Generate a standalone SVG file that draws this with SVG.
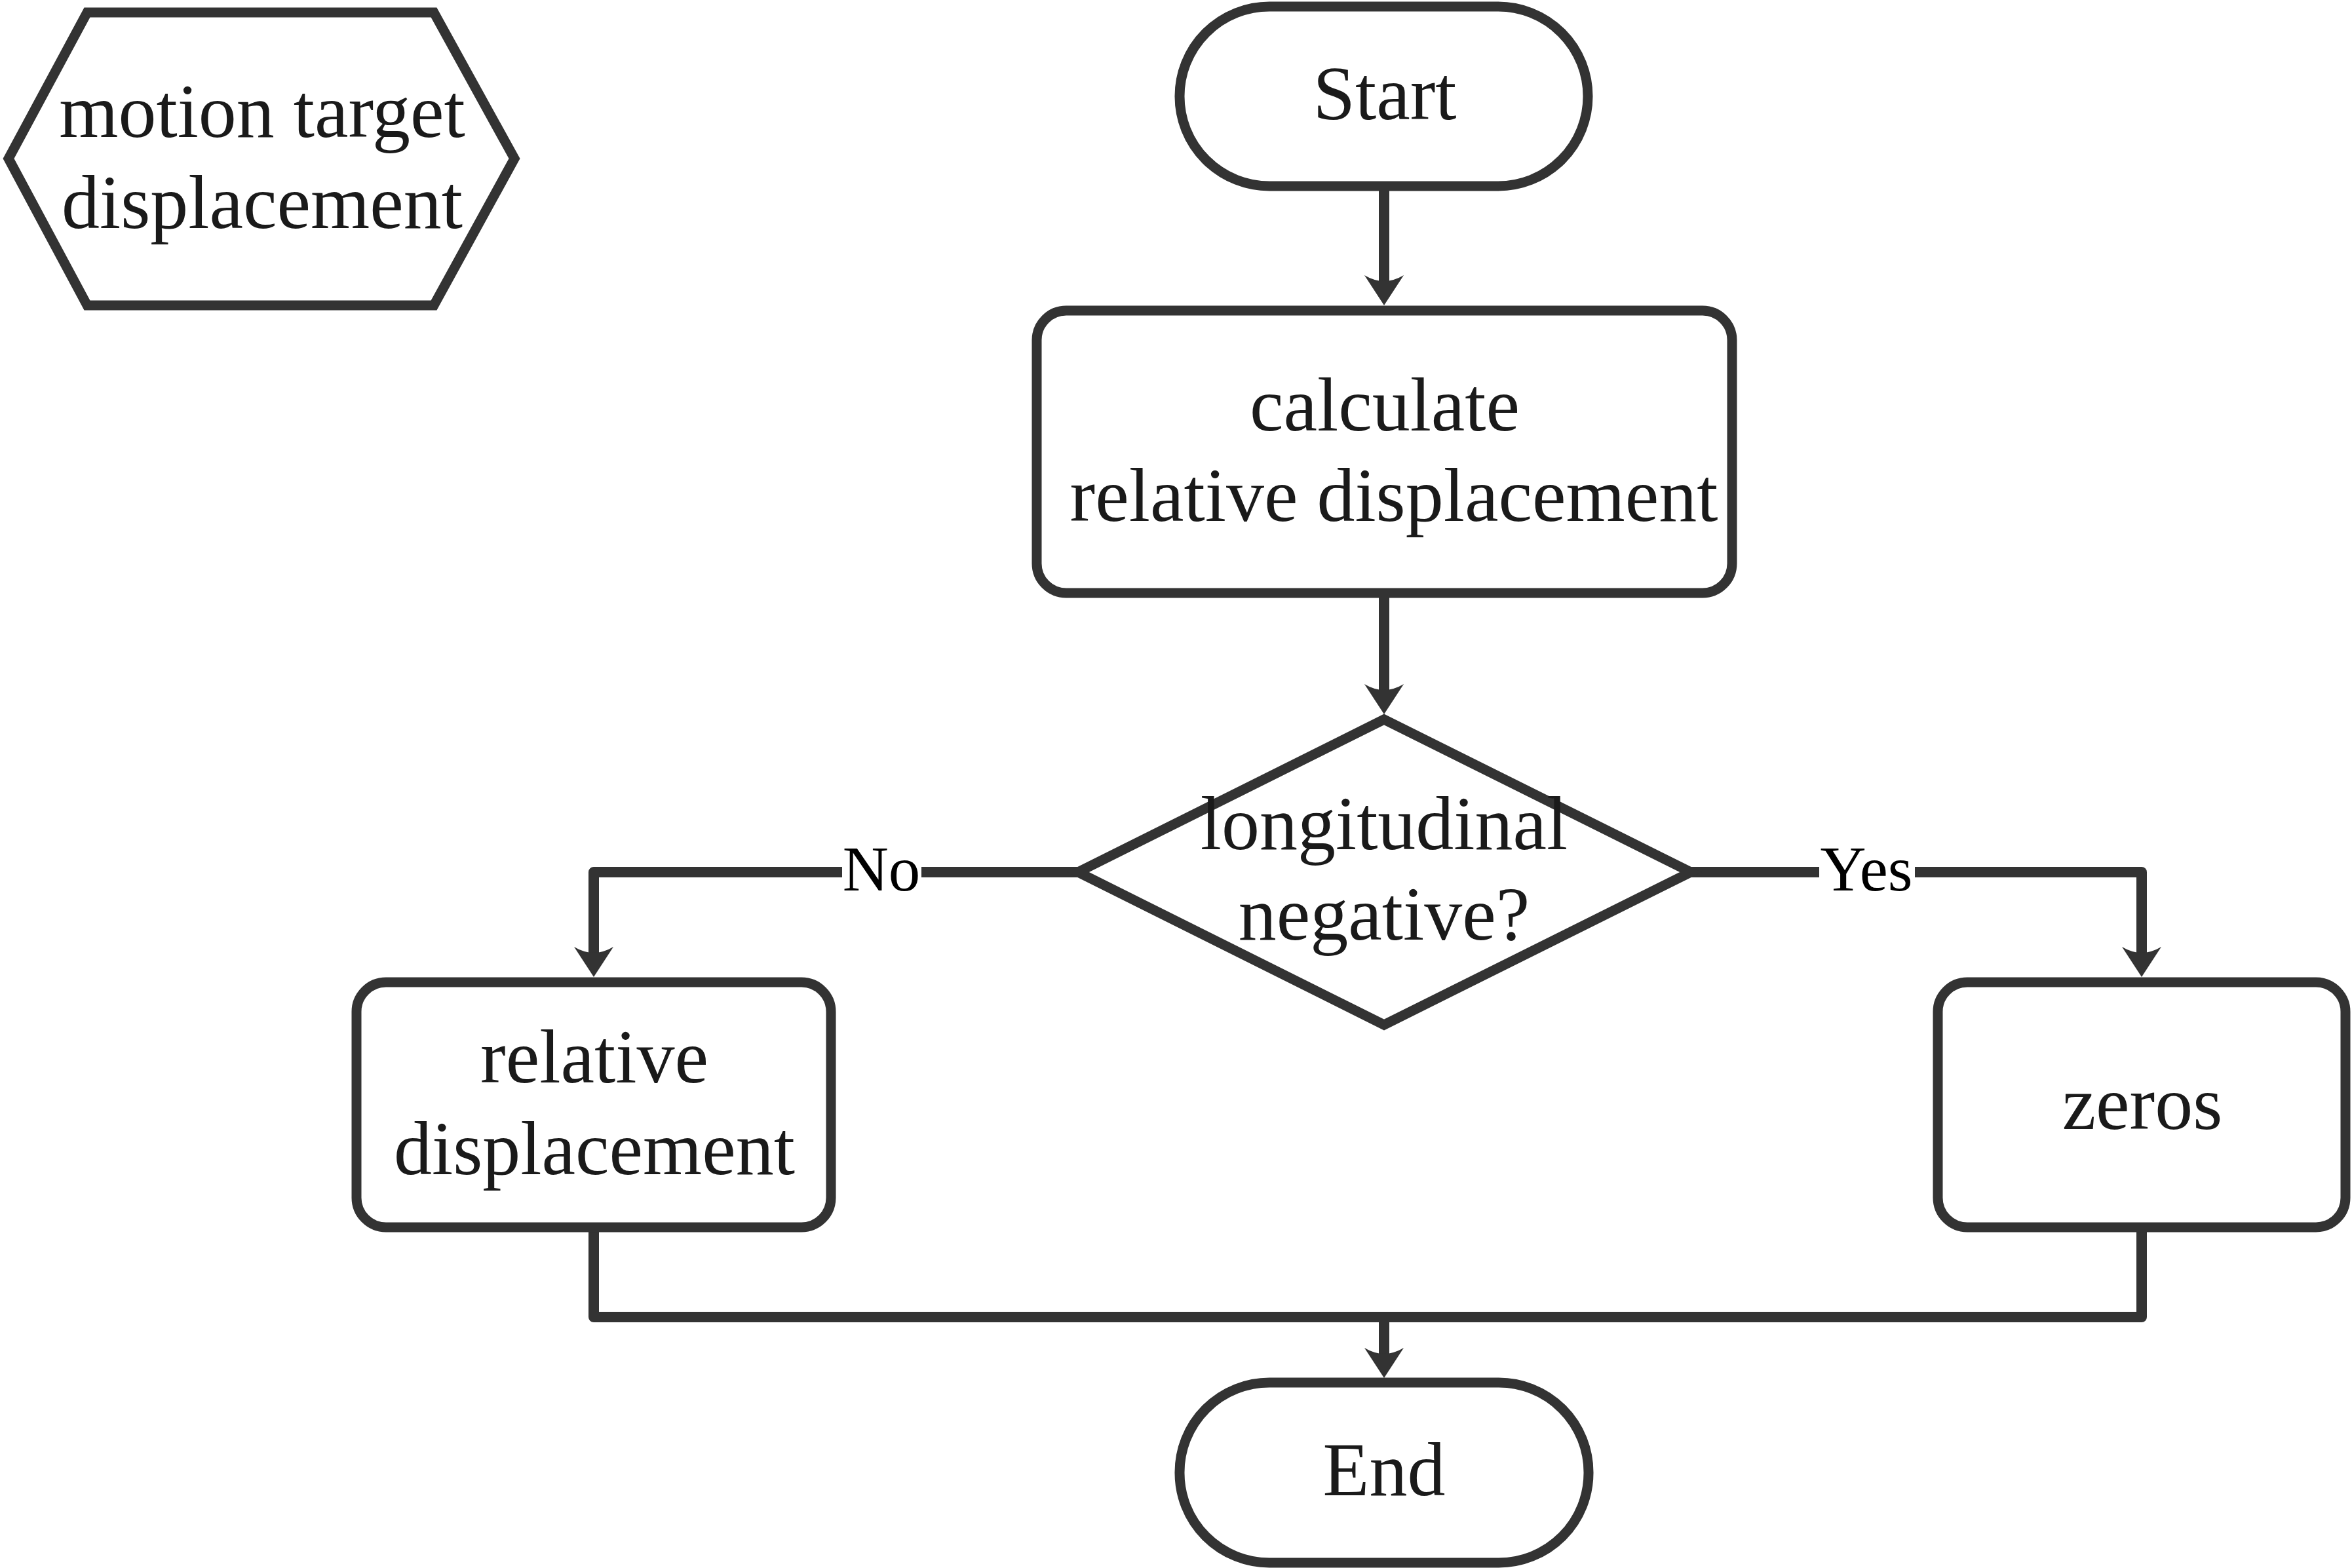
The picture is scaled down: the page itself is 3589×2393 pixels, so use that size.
<svg xmlns="http://www.w3.org/2000/svg" width="3589" height="2393" viewBox="0 0 3589 2393">
<style>
.node{fill:#ffffff;stroke:#333333;stroke-width:15;stroke-linejoin:miter}
.conn{fill:none;stroke:#333333;stroke-width:16;stroke-linejoin:round}
.t{font-family:"Liberation Serif","Times New Roman",serif;font-size:116px;fill:#1a1a1a;text-anchor:middle}
.lbl{font-family:"Liberation Serif","Times New Roman",serif;font-size:97px;fill:#000000;text-anchor:middle}
</style>
<defs>
<marker id="arr" markerUnits="userSpaceOnUse" markerWidth="50" markerHeight="64" viewBox="0 -32 50 64" refX="16" refY="0" orient="auto" overflow="visible">
<path d="M0,-30 L46,0 L0,30 Q18,0 0,-30 Z" fill="#333333"/>
</marker>
</defs>
<rect width="3589" height="2393" fill="#ffffff"/>
<g id="connectors">
<path class="conn" d="M2112,284 L2112,436" marker-end="url(#arr)"/>
<path class="conn" d="M2112,905 L2112,1060" marker-end="url(#arr)"/>
<path class="conn" d="M1645,1331 L906,1331 L906,1461" marker-end="url(#arr)"/>
<path class="conn" d="M2580,1331 L3268,1331 L3268,1461" marker-end="url(#arr)"/>
<path class="conn" d="M906,1873 L906,2010 L3268,2010 L3268,1873"/>
<path class="conn" d="M2112,2010 L2112,2073" marker-end="url(#arr)"/>
<rect x="1285" y="1285" width="121" height="90" fill="#ffffff"/>
<text class="lbl" x="1345" y="1359">No</text>
<rect x="2776" y="1285" width="146" height="90" fill="#ffffff"/>
<text class="lbl" x="2848" y="1359">Yes</text>
</g>
<g id="legend">
<polygon class="node" points="13,242 133,19 662,19 785,242 662,466 133,466"/>
<text class="t" x="400" y="209">motion target</text>
<text class="t" x="400" y="348">displacement</text>
</g>
<g id="start">
<rect class="node" x="1800" y="10" width="623" height="274" rx="137" ry="137"/>
<text class="t" x="2113" y="182">Start</text>
</g>
<g id="calc">
<rect class="node" x="1582" y="474" width="1061" height="431" rx="45" ry="45"/>
<text class="t" x="2113" y="657">calculate</text>
<text class="t" x="2127" y="795">relative displacement</text>
</g>
<g id="decision">
<polygon class="node" points="2112,1098 2580,1331 2112,1564 1645,1331"/>
<text class="t" x="2112" y="1296">longitudinal</text>
<text class="t" x="2112" y="1434">negative?</text>
</g>
<g id="relative">
<rect class="node" x="544" y="1499" width="724" height="374" rx="45" ry="45"/>
<text class="t" x="907" y="1652">relative</text>
<text class="t" x="907" y="1792">displacement</text>
</g>
<g id="zeros">
<rect class="node" x="2957" y="1499" width="622" height="374" rx="45" ry="45"/>
<text class="t" x="3269" y="1723">zeros</text>
</g>
<g id="end">
<rect class="node" x="1800" y="2110" width="624" height="275" rx="137" ry="137"/>
<text class="t" x="2112" y="2282">End</text>
</g>
</svg>
